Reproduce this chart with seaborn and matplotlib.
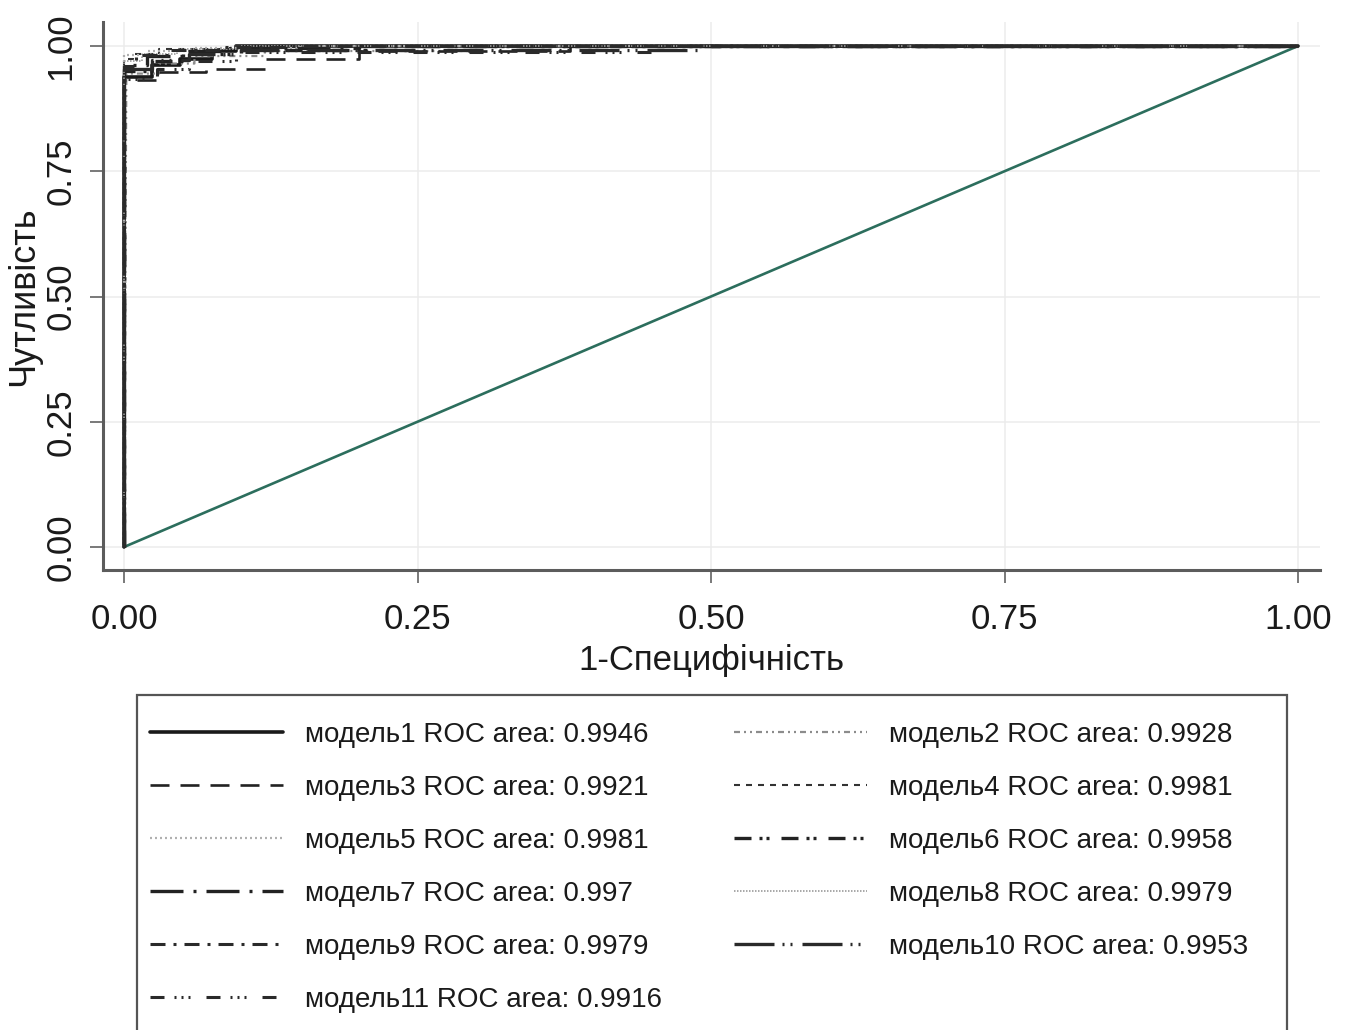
import matplotlib
matplotlib.use("Agg")
import matplotlib.pyplot as plt
import seaborn as sns
from matplotlib.lines import Line2D
from matplotlib.patches import Rectangle

# ---------------- data ----------------
model_names = ["модель1", "модель2", "модель3", "модель4", "модель5", "модель6",
               "модель7", "модель8", "модель9", "модель10", "модель11"]
roc_areas = ["0.9946", "0.9928", "0.9921", "0.9981", "0.9981", "0.9958",
             "0.997", "0.9979", "0.9979", "0.9953", "0.9916"]

fpr_m1 = [0, 0, 0.024, 0.024, 0.048, 0.048, 0.075, 0.075, 0.095, 0.095, 1]
tpr_m1 = [0, 0.938, 0.938, 0.962, 0.962, 0.975, 0.975, 0.99, 0.99, 1, 1]
fpr_m2 = [0, 0.002, 0.03, 0.03, 0.06, 0.06, 0.12, 0.12, 0.30, 0.30, 1]
tpr_m2 = [0, 0.945, 0.945, 0.965, 0.965, 0.98, 0.98, 0.99, 0.99, 1, 1]
fpr_m3 = [0, 0, 0.03, 0.03, 0.07, 0.07, 0.12, 0.12, 0.20, 0.20, 0.38, 0.38, 1]
tpr_m3 = [0, 0.932, 0.932, 0.948, 0.948, 0.955, 0.955, 0.975, 0.975, 0.99, 0.99, 1, 1]
fpr_m4 = [0, 0, 0.008, 0.008, 0.03, 0.03, 0.09, 0.09, 1]
tpr_m4 = [0, 0.975, 0.975, 0.985, 0.985, 0.995, 0.995, 1, 1]
fpr_m5 = [0, 0, 0.02, 0.02, 0.06, 0.06, 0.15, 0.15, 1]
tpr_m5 = [0, 0.982, 0.982, 0.99, 0.99, 0.997, 0.997, 1, 1]
fpr_m6 = [0, 0, 0.025, 0.025, 0.05, 0.05, 0.10, 0.10, 0.25, 0.25, 1]
tpr_m6 = [0, 0.95, 0.95, 0.97, 0.97, 0.985, 0.985, 0.993, 0.993, 1, 1]
fpr_m7 = [0, 0, 0.02, 0.02, 0.05, 0.05, 0.09, 0.09, 0.20, 0.20, 1]
tpr_m7 = [0, 0.962, 0.962, 0.98, 0.98, 0.99, 0.99, 0.996, 0.996, 1, 1]
fpr_m8 = [0, 0, 0.015, 0.015, 0.045, 0.045, 0.10, 0.10, 1]
tpr_m8 = [0, 0.97, 0.97, 0.985, 0.985, 0.995, 0.995, 1, 1]
fpr_m9 = [0, 0, 0.01, 0.01, 0.04, 0.04, 0.08, 0.08, 0.14, 0.14, 1]
tpr_m9 = [0, 0.96, 0.96, 0.982, 0.982, 0.993, 0.993, 0.998, 0.998, 1, 1]
fpr_m10 = [0, 0, 0.024, 0.024, 0.055, 0.055, 0.10, 0.10, 0.49, 0.49, 1]
tpr_m10 = [0, 0.955, 0.955, 0.972, 0.972, 0.985, 0.985, 0.992, 0.992, 1, 1]
fpr_m11 = [0, 0, 0.028, 0.028, 0.055, 0.055, 0.095, 0.095, 0.45, 0.45, 1]
tpr_m11 = [0, 0.935, 0.935, 0.955, 0.955, 0.97, 0.97, 0.988, 0.988, 1, 1]

fpr_all = [fpr_m1, fpr_m2, fpr_m3, fpr_m4, fpr_m5, fpr_m6, fpr_m7, fpr_m8, fpr_m9, fpr_m10, fpr_m11]
tpr_all = [tpr_m1, tpr_m2, tpr_m3, tpr_m4, tpr_m5, tpr_m6, tpr_m7, tpr_m8, tpr_m9, tpr_m10, tpr_m11]

ref_x = [0, 1]
ref_y = [0, 1]

tick_values = [0, 0.25, 0.5, 0.75, 1.0]
tick_labels = ["0.00", "0.25", "0.50", "0.75", "1.00"]
x_label = "1-Специфічність"
y_label = "Чутливість"

# ---------------- styles ----------------
# (color, linewidth pt, dash pattern in pixels or None for solid)
styles = [
    ("#1a1a1a", 2.6, None),
    ("#8c8c8c", 1.6, [6, 4, 2, 4, 2, 4]),
    ("#222222", 1.9, [19, 11]),
    ("#333333", 1.5, [6, 6]),
    ("#b0b0b0", 1.6, [2, 3]),
    ("#222222", 2.4, [17, 8, 3, 4, 3, 12]),
    ("#222222", 2.4, [33, 10, 3, 10]),
    ("#9a9a9a", 1.2, [1.5, 1.5]),
    ("#2a2a2a", 2.2, [15, 8, 3, 8]),
    ("#2a2a2a", 2.4, [40, 8, 2, 6, 2, 10]),
    ("#2a2a2a", 2.2, [14, 10, 2, 5, 2, 5, 2, 16]),
]

PX_PER_PT = 100 / 72.0


def to_ls(lw, dash_px):
    if dash_px is None:
        return "-"
    return (0, tuple(p / PX_PER_PT / lw for p in dash_px))


sns.set_style("white")
plt.rcParams['font.family'] = ['Liberation Sans', 'DejaVu Sans']

W, H = 1350, 1030
fig = plt.figure(figsize=(W / 100, H / 100), dpi=100)
ax = fig.add_axes([103 / W, 1 - 570 / H, (1320 - 103) / W, (570 - 22) / H])

# reference diagonal
sns.lineplot(x=ref_x, y=ref_y, ax=ax, color="#2c6e5d", lw=1.9, sort=False, estimator=None)

handles = []
for i in range(len(model_names)):
    color, lw, dash = styles[i]
    ls = to_ls(lw, dash)
    sns.lineplot(x=fpr_all[i], y=tpr_all[i], ax=ax, color=color, lw=lw,
                 linestyle=ls, sort=False, estimator=None)
    handles.append(Line2D([0], [0], color=color, lw=lw, linestyle=ls))

labels = [f"{m} ROC area: {a}" for m, a in zip(model_names, roc_areas)]

x0 = -21 / 1174
x1 = 1 + 22 / 1174
y0 = -23 / 501
y1 = 1 + 24 / 501
ax.set_xlim(x0, x1)
ax.set_ylim(y0, y1)

ax.set_xticks(tick_values)
ax.set_xticklabels(tick_labels)
ax.set_yticks(tick_values)
ax.set_yticklabels(tick_labels, rotation=90, va="center")

for s in ["top", "right"]:
    ax.spines[s].set_visible(False)
for s in ["left", "bottom"]:
    ax.spines[s].set_color("#5c5c5c")
    ax.spines[s].set_linewidth(2.2)

ax.tick_params(axis="both", which="major", direction="out", length=9.5, width=1.1,
               color="#555555", labelsize=25, labelcolor="#1a1a1a", pad=9,
               bottom=True, left=True)
ax.tick_params(axis="x", pad=14)
ax.grid(True, color="#ececec", lw=1.1)
ax.set_axisbelow(True)

ax.set_xlabel(x_label, fontsize=25, color="#1a1a1a", labelpad=6)
ax.set_ylabel(y_label, fontsize=26, color="#1a1a1a", labelpad=2)

# legend box
fig.patches.append(Rectangle((137 / W, 1 - 1040 / H), (1287 - 137) / W, (1040 - 695) / H,
                             transform=fig.transFigure, fill=False, edgecolor="#555555",
                             lw=1.6, zorder=0))

order = [0, 2, 4, 6, 8, 10, 1, 3, 5, 7, 9]
fs = 20
em = fs * PX_PER_PT
fig.legend([handles[k] for k in order], [labels[k] for k in order],
           loc="upper left", bbox_to_anchor=(150 / W, 1 - 722 / H), ncol=2,
           frameon=False, fontsize=fs, borderpad=0, borderaxespad=0,
           handlelength=133 / em, handletextpad=22 / em, columnspacing=72 / em,
           labelspacing=0.97, labelcolor="#1a1a1a")

fig.savefig("out.png", dpi=100, facecolor="white")
